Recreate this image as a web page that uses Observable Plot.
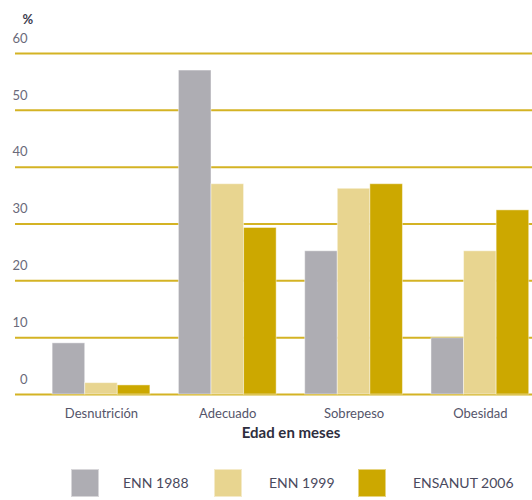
<!DOCTYPE html>
<html>
<head>
<meta charset="utf-8">
<script src="https://cdn.jsdelivr.net/npm/d3@7"></script>
<script src="https://cdn.jsdelivr.net/npm/@observablehq/plot@0.6"></script>
<style>
  body { margin: 0; background: #fff; font-family: Lato, "Open Sans", sans-serif; }
  #wrap { position: relative; width: 532px; height: 500px; }
  #legend { position: absolute; left: 0; top: 450px; width: 532px; height: 50px; }
  .sw { position: absolute; top: 19px; width: 28px; height: 28px; box-sizing: border-box; border: 1px solid rgba(255,255,255,0.5); }
  .lb { position: absolute; top: 24px; font-size: 14px; color: #4a4a5e; line-height: 17px; }
</style>
</head>
<body>
<div id="wrap">
  <div id="chart"></div>
  <div id="legend"></div>
</div>
<script>
const categories = ["Desnutrición", "Adecuado", "Sobrepeso", "Obesidad"];
const series = ["ENN 1988", "ENN 1999", "ENSANUT 2006"];
const enn1988 = [9.0, 57.0, 25.2, 9.9];
const enn1999 = [2.0, 37.0, 36.2, 25.2];
const ensanut2006 = [1.6, 29.3, 37.0, 32.4];
const yTicks = [0, 10, 20, 30, 40, 50, 60];
const colors = ["#aeadb3", "#e8d590", "#cca800"];

const seriesValues = [enn1988, enn1999, ensanut2006];
const rows = [];
seriesValues.forEach((vals, s) => {
  vals.forEach((v, c) => rows.push({category: categories[c], ci: c, series: series[s], si: s, value: v}));
});

const barW = 0.258;

const chart = Plot.plot({
  width: 532,
  height: 450,
  marginLeft: 15,
  marginRight: 0,
  marginTop: 53,
  marginBottom: 56,
  style: {fontFamily: "Lato, 'Open Sans', sans-serif", fontSize: "13px", color: "#4a4a5e", background: "#fff"},
  x: {type: "linear", domain: [-0.681, 3.413], axis: null},
  y: {domain: [0, 60], axis: null},
  color: {domain: series, range: colors},
  marks: [
    Plot.ruleY(yTicks, {stroke: "#d4b324", strokeWidth: 2}),
    Plot.rectY(rows, {
      x1: d => d.ci + (d.si - 1.5) * barW,
      x2: d => d.ci + (d.si - 0.5) * barW,
      y: "value",
      fill: "series",
      stroke: "#ffffff",
      strokeOpacity: 0.45,
      strokeWidth: 1
    }),
    Plot.axisY(yTicks, {tickSize: 0, tickPadding: -12, dy: -15, fill: "#6a6a7a", fontSize: 13, label: null}),
    Plot.axisX([0, 1, 2, 3], {tickSize: 0, tickPadding: 14, tickFormat: i => categories[i], fill: "#55556a", fontSize: 13, label: null}),
    Plot.text(["Edad en meses"], {frameAnchor: "bottom", dy: 43, dx: 17, fontWeight: "bold", fontSize: 15, fill: "#2e2e3e"}),
    Plot.text(["%"], {frameAnchor: "top-left", dy: -39, dx: 7, fontWeight: "bold", fontSize: 13, fill: "#3c3c4e"})
  ]
});
document.getElementById("chart").appendChild(chart);

const legend = document.getElementById("legend");
const swX = [71, 214, 358];
const lbX = [123, 269, 413];
series.forEach((s, i) => {
  const sw = document.createElement("div");
  sw.className = "sw";
  sw.style.left = swX[i] + "px";
  sw.style.background = colors[i];
  legend.appendChild(sw);
  const lb = document.createElement("div");
  lb.className = "lb";
  lb.style.left = lbX[i] + "px";
  lb.textContent = s;
  legend.appendChild(lb);
});
</script>
</body>
</html>
